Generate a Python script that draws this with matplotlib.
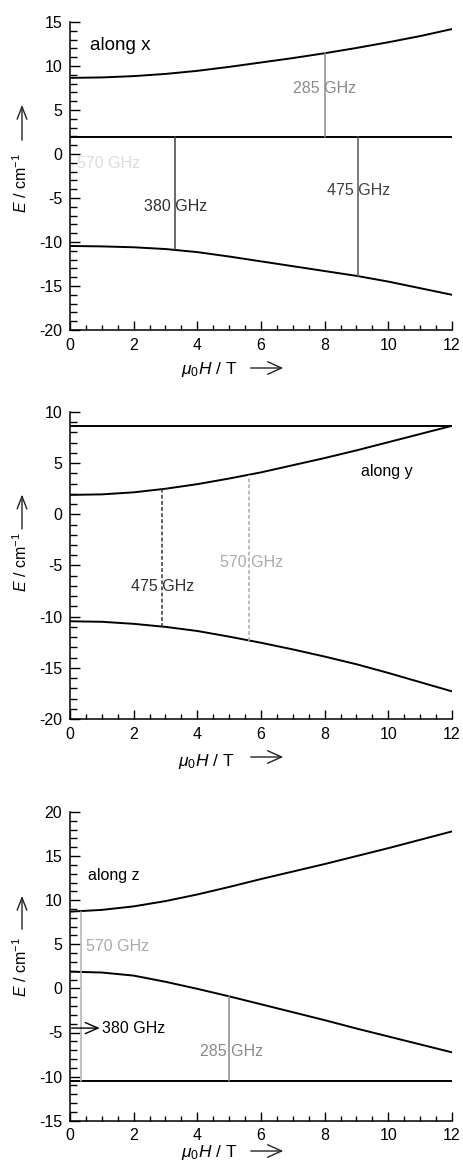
import matplotlib
matplotlib.use("Agg")
import matplotlib.pyplot as plt
from matplotlib.ticker import MultipleLocator

plt.rcParams['font.family'] = ['Liberation Sans', 'DejaVu Sans']
plt.rcParams['mathtext.fontset'] = 'custom'
plt.rcParams['mathtext.rm'] = 'Liberation Sans'
plt.rcParams['mathtext.it'] = 'Liberation Sans:italic'
plt.rcParams['mathtext.default'] = 'it'
plt.rcParams['axes.unicode_minus'] = False

# ---------------- data ----------------
field = [0, 1, 2, 3, 4, 5, 6, 7, 8, 9, 10, 11, 12]

# along x
x_upper = [8.65, 8.7, 8.85, 9.1, 9.45, 9.9, 10.4, 10.9, 11.45, 12.05, 12.7, 13.4, 14.2]
x_middle = [1.95] * 13
x_lower = [-10.45, -10.5, -10.6, -10.8, -11.15, -11.65, -12.2, -12.75, -13.3, -13.85, -14.5, -15.25, -16.0]
x_trans_labels = ["285 GHz", "380 GHz", "475 GHz"]
x_trans_field = [8.0, 3.3, 9.05]
x_trans_from = [1.95, 1.95, 1.95]
x_trans_to = [11.45, -10.85, -13.9]

# along y
y_upper = [8.65] * 13
y_middle = [1.9, 1.95, 2.15, 2.5, 2.95, 3.5, 4.1, 4.8, 5.5, 6.25, 7.05, 7.85, 8.65]
y_lower = [-10.45, -10.5, -10.7, -11.0, -11.4, -11.95, -12.55, -13.2, -13.9, -14.65, -15.5, -16.4, -17.3]
y_trans_labels = ["475 GHz", "570 GHz"]
y_trans_field = [2.9, 5.63]
y_trans_from = [-11.0, -12.35]
y_trans_to = [2.45, 3.85]

# along z
z_upper = [8.7, 8.9, 9.3, 9.9, 10.65, 11.5, 12.4, 13.25, 14.1, 15.0, 15.9, 16.85, 17.8]
z_middle = [1.9, 1.8, 1.45, 0.75, -0.05, -0.9, -1.8, -2.7, -3.6, -4.55, -5.45, -6.35, -7.25]
z_lower = [-10.45] * 13
z_trans_labels = ["570 GHz", "285 GHz"]
z_trans_field = [0.35, 5.0]
z_trans_from = [-10.45, -10.45]
z_trans_to = [8.7, -0.9]

# ---------------- figure ----------------
W, H = 464, 1172
fig = plt.figure(figsize=(W / 100, H / 100), dpi=100)


def fx(px):
    return px / W


def fy(py):
    return 1 - py / H


def make_ax(top_px, bot_px, ylim):
    ax = fig.add_axes([fx(70), fy(bot_px), fx(452) - fx(70), (bot_px - top_px) / H])
    ax.set_xlim(0, 12)
    ax.set_ylim(*ylim)
    for s in ('top', 'right'):
        ax.spines[s].set_visible(False)
    for s in ('left', 'bottom'):
        ax.spines[s].set_linewidth(1.1)
    ax.xaxis.set_major_locator(MultipleLocator(2))
    ax.xaxis.set_minor_locator(MultipleLocator(0.5))
    ax.yaxis.set_major_locator(MultipleLocator(5))
    ax.yaxis.set_minor_locator(MultipleLocator(1))
    ax.tick_params(axis='both', which='both', direction='in', width=1.0,
                   top=False, right=False, labelsize=11.5)
    ax.tick_params(axis='x', which='major', length=6.8, pad=5.5)
    ax.tick_params(axis='x', which='minor', length=3.8)
    ax.tick_params(axis='y', which='major', length=7.0, pad=5.5)
    ax.tick_params(axis='y', which='minor', length=5.0)
    return ax


def axis_labels(ylab_center, arrow_tail, arrow_tip, xl_left, xl_base, xarrow_y):
    fig.text(fx(21), fy(ylab_center), r"$E$ / cm$^{\mathrm{-1}}$", rotation=90,
             ha='center', va='center', fontsize=11.5)
    fig.add_artist(matplotlib.patches.FancyArrowPatch(
        (fx(22), fy(arrow_tail)), (fx(22), fy(arrow_tip)), transform=fig.transFigure,
        arrowstyle='->,head_length=9,head_width=3.5', lw=1.0, color='#222', mutation_scale=1))
    fig.text(fx(xl_left), fy(xl_base), r"$\mu_0H$ / T", ha='left', va='baseline', fontsize=12.5)
    fig.add_artist(matplotlib.patches.FancyArrowPatch(
        (fx(248), fy(xarrow_y)), (fx(286), fy(xarrow_y)), transform=fig.transFigure,
        arrowstyle='->,head_length=10,head_width=4.5', lw=1.0, color='#222', mutation_scale=1))


curve_kw = dict(color='black', lw=1.4, solid_capstyle='butt')

# ---- panel 1: along x ----
ax1 = make_ax(22, 330, (-20, 15))
for ys in (x_upper, x_middle, x_lower):
    ax1.plot(field, ys, **curve_kw)
x_colors = ['#8a8a8a', '#404040', '#555555']
for f, a, b, c in zip(x_trans_field, x_trans_from, x_trans_to, x_colors):
    ax1.plot([f, f], [a, b], color=c, lw=1.1)
ax1.text(8.0, 7.4, x_trans_labels[0], color='#8a8a8a', fontsize=11.5, ha='center', va='center')
ax1.text(3.32, -6.0, x_trans_labels[1], color='#303030', fontsize=11.5, ha='center', va='center')
ax1.text(9.06, -4.2, x_trans_labels[2], color='#404040', fontsize=11.5, ha='center', va='center')
ax1.text(1.2, -1.1, "570 GHz", color='#dcdcdc', fontsize=11.5, ha='center', va='center')
ax1.text(0.63, 12.3, "along x", color='black', fontsize=13.5, ha='left', va='center')
axis_labels(183, 143, 102, 181, 374, 368)

# ---- panel 2: along y ----
ax2 = make_ax(412, 719, (-20, 10))
for ys in (y_upper, y_middle, y_lower):
    ax2.plot(field, ys, **curve_kw)
ax2.plot([y_trans_field[0]] * 2, [y_trans_from[0], y_trans_to[0]], color='#333333',
         lw=1.1, linestyle=(0, (2.5, 1.5)))
ax2.plot([y_trans_field[1]] * 2, [y_trans_from[1], y_trans_to[1]], color='#aaaaaa',
         lw=1.1, linestyle=(0, (2.5, 1.5)))
ax2.text(2.91, -7.06, y_trans_labels[0], color='#333333', fontsize=11.5, ha='center', va='center')
ax2.text(5.71, -4.7, y_trans_labels[1], color='#aaaaaa', fontsize=11.5, ha='center', va='center')
ax2.text(9.94, 4.17, "along y", color='black', fontsize=11.5, ha='center', va='center')
axis_labels(562, 531.7, 491.7, 178, 765.7, 757)

# ---- panel 3: along z ----
ax3 = make_ax(812, 1120.7, (-15, 20))
for ys in (z_upper, z_middle, z_lower):
    ax3.plot(field, ys, **curve_kw)
ax3.plot([z_trans_field[0]] * 2, [z_trans_from[0], z_trans_to[0]], color='#b0b0b0', lw=1.1)
ax3.plot([z_trans_field[1]] * 2, [z_trans_from[1], z_trans_to[1]], color='#8a8a8a', lw=1.1)
ax3.text(1.48, 4.8, z_trans_labels[0], color='#aaaaaa', fontsize=11.5, ha='center', va='center')
ax3.text(5.08, -7.2, z_trans_labels[1], color='#8a8a8a', fontsize=11.5, ha='center', va='center')
ax3.annotate("380 GHz", xy=(0.05, -4.5), xytext=(1.02, -4.5), color='black', fontsize=11.5,
             ha='left', va='center',
             arrowprops=dict(arrowstyle='<-,head_length=0.8,head_width=0.35', lw=1.0,
                             color='black', shrinkA=0, shrinkB=0))
ax3.text(0.57, 12.8, "along z", color='black', fontsize=11.5, ha='left', va='center')
axis_labels(967, 932, 893, 181, 1156.7, 1151)

fig.savefig("out.png", dpi=100)
